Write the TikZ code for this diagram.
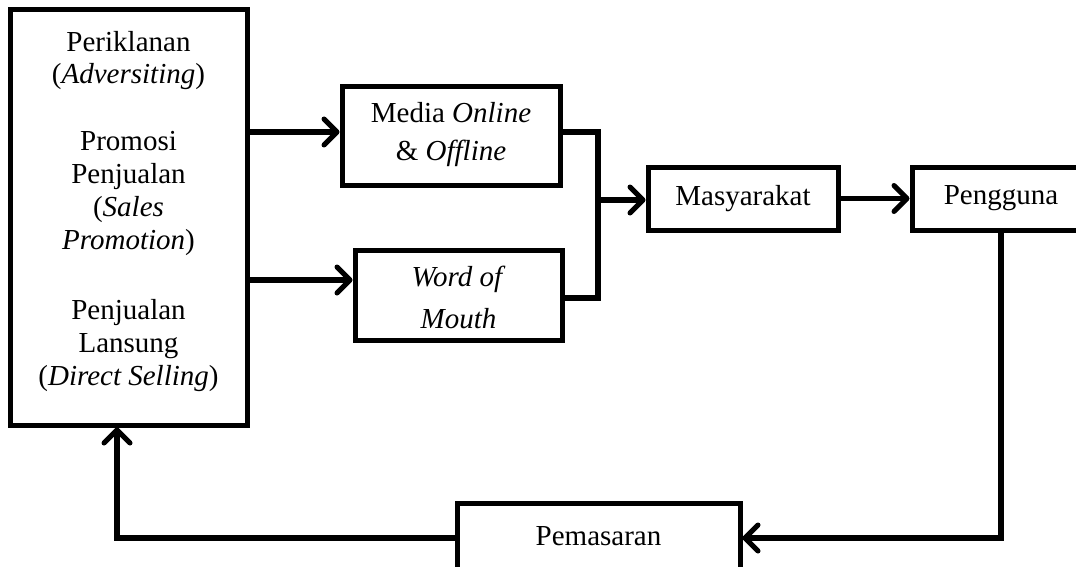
\documentclass[tikz,border=0pt]{standalone}
\usepackage{fontspec}
\setmainfont{Liberation Serif}
\usetikzlibrary{arrows.meta}
\begin{document}
\begin{tikzpicture}[x=1pt, y=-1pt,
    box/.style = {draw, line width=5pt, inner sep=0pt, align=center, font=\fontsize{29}{33}\selectfont},
    link/.style = {line width=5.5pt},
    arr/.style = {link, -{Straight Barb[length=13pt, width=26pt, line width=5pt, round]}}]
    \clip (0,0) rectangle (1076,567);
    \node[box, minimum width=237pt, minimum height=415pt] (ads) at (128.5,217.5)
        {Periklanan\\[-1pt](\textit{Adversiting})\\[34pt]Promosi\\Penjualan\\(\textit{Sales}\\\textit{Promotion})\\[37pt]Penjualan\\Lansung\\(\textit{Direct Selling})\rule[-18pt]{0pt}{0pt}};
    \node[box, font=\fontsize{29}{38}\selectfont, minimum width=218pt, minimum height=98pt] (media) at (451,136) {Media \textit{Online}\\\& \textit{Offline}\rule[-9pt]{0pt}{0pt}};
    \node[box, font=\fontsize{29}{42}\selectfont, minimum width=207pt, minimum height=90pt] (wom) at (458.5,295) {\rule{0pt}{26pt}\textit{Word of}\\\textit{Mouth}};
    \node[box, minimum width=190pt, minimum height=63pt] (masy) at (743,198.5) {Masyarakat};
    \node[box, minimum width=178pt, minimum height=63pt] (user) at (1001,198.5) {Pengguna};
    \node[box, minimum width=283pt, minimum height=80pt, text depth=14pt] (pem) at (598.5,543) {Pemasaran};
    \coordinate (join) at (598,200);
    \draw[arr] ([yshift=4pt]ads.east |- media.west) -- ([yshift=4pt]media.west);
    \draw[arr] ([yshift=15pt]ads.east |- wom.west) -- ([yshift=15pt]wom.west);
    \draw[link] ([yshift=4pt]media.east) -| (join) |- ([yshift=-3pt]wom.east);
    \draw[arr] (join) -- (join -| masy.west);
    \draw[arr] (masy.east) -- (user.west);
    \draw[arr] (user.south) |- ([yshift=5pt]pem.east);
    \draw[arr] ([yshift=5pt]pem.west) -| ([xshift=-11.5pt]ads.south);
\end{tikzpicture}
\end{document}
